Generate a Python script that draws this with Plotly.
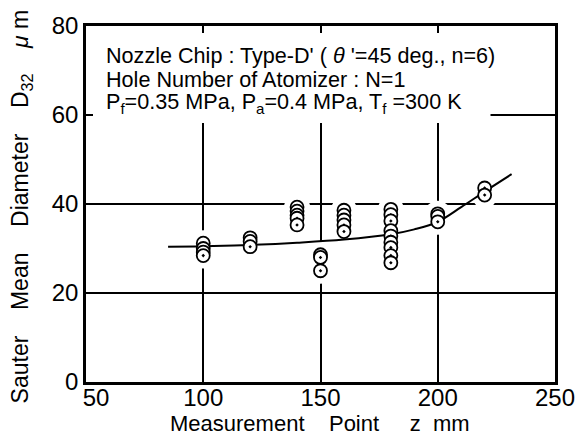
import plotly.graph_objects as go

# Measured Sauter mean diameters (D32, micrometres) at each measurement point z (mm)
meas_z = [100, 100, 100, 100,
          120, 120, 120,
          140, 140, 140, 140, 140,
          150, 150, 150,
          160, 160, 160, 160, 160,
          180, 180, 180, 180, 180, 180, 180, 180, 180,
          200, 200, 200,
          220, 220]
meas_d32 = [31.2, 30.0, 29.2, 28.4,
            32.4, 31.6, 30.4,
            39.3, 38.4, 37.5, 36.8, 35.3,
            28.6, 28.0, 25.0,
            38.6, 37.5, 36.4, 35.3, 33.8,
            38.8, 37.6, 36.2, 34.0, 32.8, 31.4, 30.2, 28.4, 26.8,
            37.8, 37.2, 36.0,
            43.6, 42.0]

# Fitted trend curve
fit_z = [85, 100, 120, 140, 160, 180, 190, 200, 210, 220, 231.5]
fit_d32 = [30.4, 30.5, 30.8, 31.3, 32.0, 33.2, 34.3, 36.0, 39.3, 42.8, 46.7]

x_ticks = [50, 100, 150, 200, 250]
x_tick_labels = ["\u00a0\u00a0\u00a050", "100", "150", "200", "250"]
y_ticks = [0, 20, 40, 60, 80]

FONT = "Liberation Sans, Arial, sans-serif"

fig = go.Figure()

# white halo under markers (interrupts the grid like in the original)
fig.add_trace(go.Scatter(x=meas_z, y=meas_d32, mode="markers",
                         marker=dict(symbol="circle", size=26, color="white",
                                     line=dict(width=0)),
                         hoverinfo="skip", showlegend=False))
fig.add_trace(go.Scatter(x=fit_z, y=fit_d32, mode="lines",
                         line=dict(color="black", width=2, shape="spline"),
                         showlegend=False))
fig.add_trace(go.Scatter(x=meas_z, y=meas_d32, mode="markers",
                         marker=dict(symbol="circle-dot", size=13, color="white",
                                     line=dict(color="black", width=1.8)),
                         showlegend=False))

axis_common = dict(showgrid=True, gridcolor="black", gridwidth=1.5,
                   showline=True, linecolor="black", linewidth=2.5, mirror="ticks",
                   ticks="inside", ticklen=7, tickwidth=1.5, tickcolor="black",
                   zeroline=False,
                   tickfont=dict(family=FONT, size=24, color="black"))

fig.update_xaxes(range=[50, 250], tickvals=x_ticks, ticktext=x_tick_labels,
                 ticklabelstandoff=-8, **axis_common)
fig.update_yaxes(range=[0, 80], tickvals=y_ticks, **axis_common)

# white box behind the condition text
fig.add_shape(type="rect", xref="x", yref="y", x0=50, x1=222.5, y0=58.2, y1=80,
              fillcolor="white", line=dict(width=0), layer="between")

H = 359.0
W = 480.0
def py(p):
    return (382 - p) / H
def px(p):
    return (p - 86) / W

lines = ["Nozzle Chip : Type-D' ( <i>θ</i> '=45 deg., n=6)",
         "Hole Number of Atomizer : N=1",
         "P<sub>f</sub>=0.35 MPa, P<sub>a</sub>=0.4 MPa, T<sub>f</sub> =300 K"]
centers = [52.4, 77.4, 100.4]
for t, c in zip(lines, centers):
    fig.add_annotation(text=t, xref="paper", yref="paper", x=px(104), y=py(c),
                       xanchor="left", yanchor="middle", showarrow=False,
                       font=dict(family=FONT, size=21.6, color="black"))

fig.add_annotation(text="Measurement&nbsp;&nbsp;&nbsp;&nbsp;Point&nbsp;&nbsp;&nbsp;&nbsp;&nbsp;z&nbsp;&nbsp;mm",
                   xref="paper", yref="paper", x=px(325), y=py(424),
                   xanchor="center", yanchor="middle", showarrow=False,
                   font=dict(family=FONT, size=22, color="black"))
fig.add_annotation(text="Sauter&nbsp;&nbsp;&nbsp;&nbsp;Mean&nbsp;&nbsp;&nbsp;&nbsp;Diameter&nbsp;&nbsp;&nbsp;&nbsp;D<sub>32</sub>&nbsp;&nbsp;&nbsp;&nbsp;<i>μ</i>&nbsp;m",
                   xref="paper", yref="paper", x=px(20.4), y=py(205),
                   xanchor="center", yanchor="middle", textangle=-90, showarrow=False,
                   font=dict(family=FONT, size=23, color="black"))

fig.update_layout(width=587, height=436,
                  margin=dict(l=86, r=21, t=23, b=54),
                  paper_bgcolor="white", plot_bgcolor="white",
                  font=dict(family=FONT, color="black"),
                  showlegend=False)

fig.write_html("out.html", config={"displayModeBar": False},
               post_script="document.body.style.margin='0';document.body.style.overflow='hidden';")
